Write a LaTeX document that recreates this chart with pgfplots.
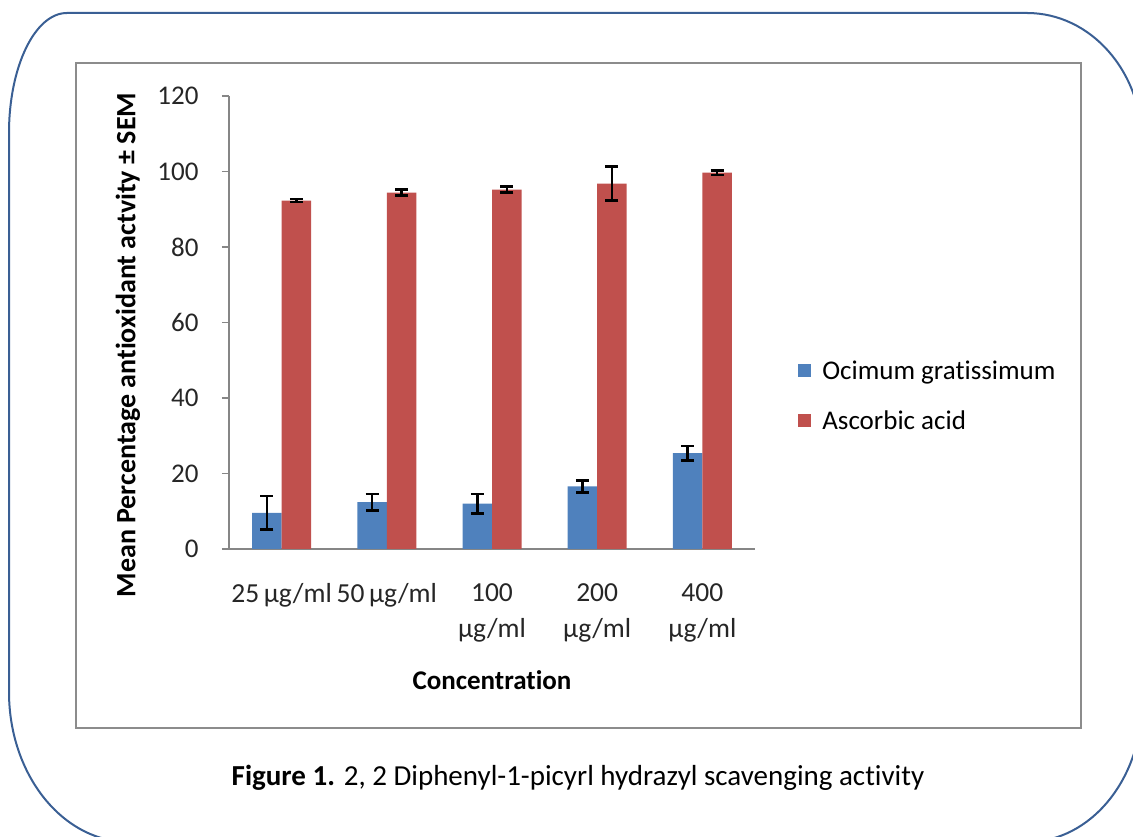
\documentclass[border=0pt]{standalone}
\usepackage{pgfplots}
\pgfplotsset{compat=1.18}
\usepackage{pgfplotstable}
\usepackage{fontspec}
\setmainfont{Carlito}[Ligatures={NoCommon}]

\definecolor{ogblue}{HTML}{4F81BD}
\definecolor{aared}{HTML}{C0504D}
\definecolor{framegray}{HTML}{8C8C8C}
\definecolor{boxblue}{HTML}{3A5F94}
\definecolor{axisgray}{HTML}{868686}

% mean % antioxidant activity and SEM per concentration
\pgfplotstableread{
x  og    ogerr  aa    aaerr
0  9.6   4.5    92.3  0.4
1  12.4  2.2    94.4  0.8
2  12.0  2.6    95.2  0.8
3  16.6  1.6    96.8  4.5
4  25.4  1.9    99.7  0.6
}\dpphdata

\begin{document}
\begin{tikzpicture}[x=1pt,y=1pt]
\useasboundingbox (0,0) rectangle (1133,837);

% rounded outer box
\draw[boxblue, line width=2pt]
  (9,704) arc[start angle=180, end angle=90, x radius=58, y radius=120]
  -- (1027,824) arc[start angle=90, end angle=0, x radius=115, y radius=130]
  -- (1142,135) arc[start angle=0, end angle=-90, x radius=115, y radius=140]
  -- (129,-5) arc[start angle=-90, end angle=-180, x radius=120, y radius=150]
  -- cycle;

% chart area frame
\draw[framegray, line width=2pt] (76,109) rectangle (1081,774);

\begin{axis}[
  at={(229pt,288pt)}, anchor=south west,
  scale only axis, width=526pt, height=453pt,
  xmin=-0.5, xmax=4.5, ymin=0, ymax=120,
  axis x line*=bottom, axis y line*=left,
  axis line style={axisgray, line width=1.5pt},
  tick align=outside,
  major tick length=7pt, minor tick length=7pt,
  ytick={0,20,...,120},
  xtick={0,1,2,3,4},
  xticklabels={{25\,µg/ml},{50\,µg/ml},{100\\µg/ml},{200\\µg/ml},{400\\µg/ml}},
  minor xtick={-0.5,0.5,1.5,2.5,3.5,4.5},
  xtick style={draw=none},
  ytick style={axisgray, line width=1.5pt},
  minor tick style={axisgray, line width=1.5pt},
  /pgf/number format/assume math mode=true,
  ticklabel style={text=black!85},
  yticklabel style={xshift=-20pt, font=\fontsize{27}{32}\selectfont},
  xticklabel style={align=center, yshift=-24pt, font=\fontsize{27.5}{36}\selectfont},
  xlabel={\textbf{Concentration}},
  xlabel style={at={(axis description cs:0.5,-0.289)}, anchor=center,
    font=\fontsize{27}{32}\selectfont},
  ylabel={\textbf{Mean Percentage antioxidant actvity ± SEM}},
  ylabel style={at={(axis description cs:-0.192,0.45)}, anchor=center,
    rotate=0, font=\fontsize{28}{33}\selectfont},
  ybar=0pt, bar width=29.5pt,
  legend style={at={(axis description cs:1.082,0.338)}, anchor=west,
    draw=none, fill=none, font=\fontsize{27}{32}\selectfont,
    row sep=26pt, inner sep=0pt},
  legend cell align=left,
  legend image code/.code={\fill[#1] (0pt,-6.5pt) rectangle (13pt,6.5pt);
    \path (22pt,0pt);},
  clip=false,
]
\addplot[fill=ogblue, draw=none,
  error bars/.cd, y dir=both, y explicit,
  error bar style={black, line width=2.5pt},
  error mark options={black, rotate=90, mark size=6.5pt, line width=2.5pt}]
  table[x=x, y=og, y error=ogerr] {\dpphdata};
\addplot[fill=aared, draw=none,
  error bars/.cd, y dir=both, y explicit,
  error bar style={black, line width=2.5pt},
  error mark options={black, rotate=90, mark size=6.5pt, line width=2.5pt}]
  table[x=x, y=aa, y error=aaerr] {\dpphdata};
\legend{Ocimum gratissimum, Ascorbic acid}
\end{axis}

\node[font=\fontsize{29}{34}\selectfont] at (578,59)
  {\textbf{Figure 1.} 2, 2 Diphenyl-1-picyrl hydrazyl scavenging activity};
\end{tikzpicture}
\end{document}
